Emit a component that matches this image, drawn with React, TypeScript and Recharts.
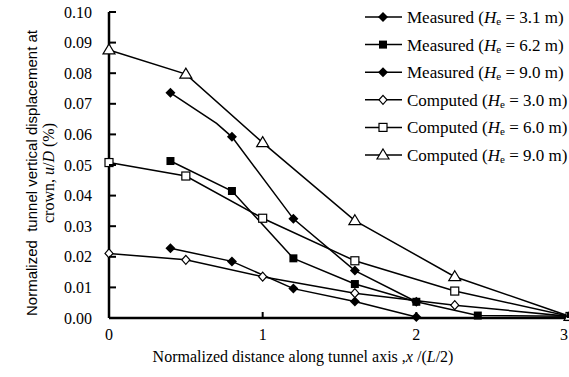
import React from 'react';
import { LineChart, Line, XAxis, YAxis, Customized } from 'recharts';

// ---- data ----
const m31X = [0.4, 0.8, 1.2, 1.6, 2.0];
const m31Y = [0.0228, 0.0185, 0.0096, 0.0054, 0.0003];
const m62X = [0.4, 0.8, 1.2, 1.6, 2.0, 2.4, 3.0];
const m62Y = [0.0513, 0.0415, 0.0195, 0.0111, 0.0053, 0.0008, 0.0006];
const m90X = [0.4, 0.7, 0.8, 1.2, 1.6, 2.0];
const m90Y = [0.0736, 0.0636, 0.0592, 0.0324, 0.0155, 0.0053];
const m90Marked = [true, false, true, true, true, true];
const computedX = [0, 0.5, 1.0, 1.6, 2.25, 3.0];
const c30Y = [0.0211, 0.019, 0.0135, 0.0081, 0.0042, 0.0005];
const c60Y = [0.0508, 0.0464, 0.0326, 0.0187, 0.0088, 0.0005];
const c90Y = [0.0876, 0.0797, 0.0573, 0.0318, 0.0135, 0.0005];
const xTicks = [0, 1, 2, 3];
const yTicks = [0, 0.01, 0.02, 0.03, 0.04, 0.05, 0.06, 0.07, 0.08, 0.09, 0.1];
const legendNames = [
  { label: 'Measured', he: '3.1', kind: 'fdiamond' },
  { label: 'Measured', he: '6.2', kind: 'fsquare' },
  { label: 'Measured', he: '9.0', kind: 'fdiamond' },
  { label: 'Computed', he: '3.0', kind: 'odiamond' },
  { label: 'Computed', he: '6.0', kind: 'osquare' },
  { label: 'Computed', he: '9.0', kind: 'otriangle' },
];

const toRows = (xs: number[], ys: number[], marks?: boolean[]) =>
  xs.map((x, i) => ({ x, y: ys[i], mark: marks ? marks[i] : true }));

const m31 = toRows(m31X, m31Y);
const m62 = toRows(m62X, m62Y);
const m90 = toRows(m90X, m90Y, m90Marked);
const c30 = toRows(computedX, c30Y);
const c60 = toRows(computedX, c60Y);
const c90 = toRows(computedX, c90Y);

const FONT = '"Liberation Serif", "Times New Roman", serif';

function shape(kind: string, cx: number, cy: number) {
  switch (kind) {
    case 'fdiamond':
      return <polygon points={`${cx},${cy - 5} ${cx + 5},${cy} ${cx},${cy + 5} ${cx - 5},${cy}`} fill="#000" />;
    case 'fsquare':
      return <rect x={cx - 4} y={cy - 4} width={8} height={8} fill="#000" />;
    case 'odiamond':
      return <polygon points={`${cx},${cy - 4.5} ${cx + 4},${cy} ${cx},${cy + 4.5} ${cx - 4},${cy}`} fill="#fff" stroke="#000" strokeWidth={1.2} />;
    case 'osquare':
      return <rect x={cx - 4} y={cy - 4} width={8} height={8} fill="#fff" stroke="#000" strokeWidth={1.2} />;
    case 'otriangle':
      return <polygon points={`${cx},${cy - 6} ${cx + 6},${cy + 4} ${cx - 6},${cy + 4}`} fill="#fff" stroke="#000" strokeWidth={1.2} />;
    default:
      return null;
  }
}

const makeDot = (kind: string) => (props: any) => {
  const { cx, cy, index, payload } = props;
  if (!payload || !payload.mark || cx == null || cy == null) return <g key={`d-${kind}-${index}`} />;
  return <g key={`d-${kind}-${index}`}>{shape(kind, cx, cy)}</g>;
};

const YTick = (props: any) => {
  const { x, y, payload } = props;
  return (
    <g>
      <line x1={x} y1={y} x2={x + 7} y2={y} stroke="#000" strokeWidth={2} />
      <text x={x - 17} y={y + 5.5} textAnchor="end" fontFamily={FONT} fontSize={16} fill="#000">
        {Number(payload.value).toFixed(2)}
      </text>
    </g>
  );
};

const XTick = (props: any) => {
  const { x, y, payload } = props;
  return (
    <g>
      <line x1={x} y1={y} x2={x} y2={y - 6} stroke="#000" strokeWidth={2} />
      <text x={Math.min(x, 564)} y={y + 22} textAnchor="middle" fontFamily={FONT} fontSize={16} fill="#000">
        {payload.value}
      </text>
    </g>
  );
};

const Decorations = () => (
  <g>
    {/* y axis title */}
    <text
      transform="translate(37,173) rotate(-90)"
      textAnchor="middle"
      fontFamily='"Liberation Sans", Arial, sans-serif'
      fontSize={15}
      fill="#000"
      style={{ whiteSpace: 'pre' }}
    >
      {'Normalized  tunnel vertical displacement at'}
    </text>
    <text transform="translate(54,173) rotate(-90)" textAnchor="middle" fontFamily={FONT} fontSize={16} fill="#000">
      crown, <tspan fontStyle="italic">u</tspan>/<tspan fontStyle="italic">D</tspan> (%)
    </text>
    {/* x axis title */}
    <text x={303} y={362} textAnchor="middle" fontFamily={FONT} fontSize={16} fill="#000" style={{ whiteSpace: 'pre' }}>
      {'Normalized distance along tunnel axis ,'}
      <tspan fontStyle="italic">x</tspan>
      {' /('}
      <tspan fontStyle="italic">L</tspan>
      {'/2)'}
    </text>
    {/* legend */}
    {legendNames.map((it, i) => {
      const cy = 17 + i * 27.6;
      return (
        <g key={`lg-${i}`}>
          <line x1={365} y1={cy} x2={402} y2={cy} stroke="#000" strokeWidth={1.5} />
          {shape(it.kind, 383, cy)}
          <text x={407} y={cy + 6} fontFamily={FONT} fontSize={17} fill="#000" style={{ whiteSpace: 'pre' }}>
            {`${it.label} (`}
            <tspan fontStyle="italic">H</tspan>
            <tspan fontSize={11} dy={2}>e</tspan>
            <tspan dy={-2}>{` = ${it.he} m)`}</tspan>
          </text>
        </g>
      );
    })}
  </g>
);

export default function App() {
  return (
    <div style={{ position: 'absolute', left: 0, top: 0, width: 569, height: 377, overflow: 'hidden', background: '#fff' }}>
      <LineChart width={572} height={377} margin={{ top: 12, right: 2, bottom: 0, left: 0 }}>
        <XAxis
          type="number"
          dataKey="x"
          domain={[0, 3]}
          ticks={xTicks}
          height={59}
          tickSize={0}
          tickMargin={0}
          tickLine={false}
          tick={<XTick />}
          axisLine={{ stroke: '#000', strokeWidth: 2.5 }}
          allowDuplicatedCategory={false}
        />
        <YAxis
          type="number"
          dataKey="y"
          domain={[0, 0.1]}
          ticks={yTicks}
          width={109}
          tickSize={0}
          tickMargin={0}
          tickLine={false}
          tick={<YTick />}
          axisLine={{ stroke: '#000', strokeWidth: 2.5 }}
        />
        <Line data={m31} dataKey="y" type="linear" stroke="#000" strokeWidth={1.5} dot={makeDot('fdiamond')} activeDot={false} isAnimationActive={false} />
        <Line data={m62} dataKey="y" type="linear" stroke="#000" strokeWidth={1.5} dot={makeDot('fsquare')} activeDot={false} isAnimationActive={false} />
        <Line data={m90} dataKey="y" type="linear" stroke="#000" strokeWidth={1.5} dot={makeDot('fdiamond')} activeDot={false} isAnimationActive={false} />
        <Line data={c30} dataKey="y" type="linear" stroke="#000" strokeWidth={1.5} dot={makeDot('odiamond')} activeDot={false} isAnimationActive={false} />
        <Line data={c60} dataKey="y" type="linear" stroke="#000" strokeWidth={1.5} dot={makeDot('osquare')} activeDot={false} isAnimationActive={false} />
        <Line data={c90} dataKey="y" type="linear" stroke="#000" strokeWidth={1.5} dot={makeDot('otriangle')} activeDot={false} isAnimationActive={false} />
        <Customized component={Decorations} />
      </LineChart>
    </div>
  );
}
